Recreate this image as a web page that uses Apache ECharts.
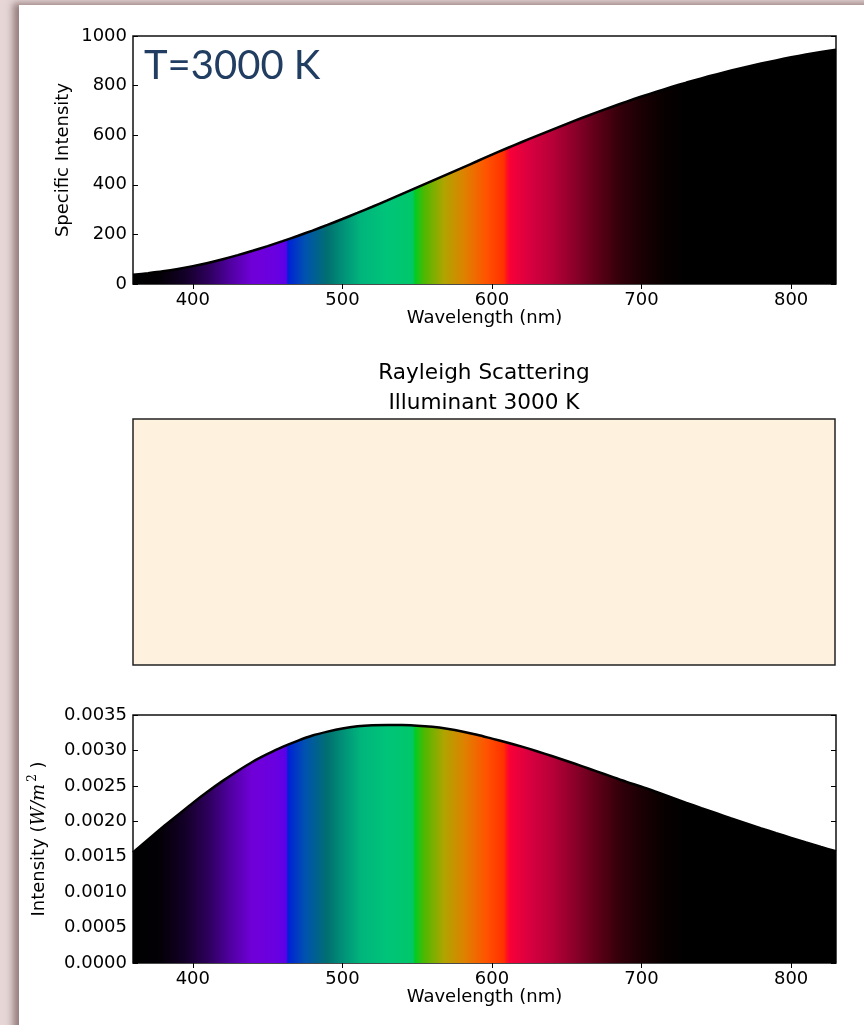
<!DOCTYPE html>
<html>
<head>
<meta charset="utf-8">
<script src="https://cdn.jsdelivr.net/npm/echarts@6/dist/echarts.min.js"></script>
<style>
html,body{margin:0;padding:0;width:864px;height:1025px;overflow:hidden;background:#e6d6d6;}
#panel{position:absolute;left:19px;top:5px;width:900px;height:1100px;background:#fff;box-shadow:-6px -2px 7px rgba(110,80,80,0.65);}
#chart{position:absolute;left:0;top:0;width:864px;height:1025px;}
</style>
</head>
<body>
<div id="panel"></div>
<div id="chart"></div>
<script>
// ---- data ----
const wavelengths = [360,370,380,390,400,410,420,430,440,450,460,470,480,490,500,510,520,530,540,550,560,570,580,590,600,610,620,630,640,650,660,670,680,690,700,710,720,730,740,750,760,770,780,790,800,810,820,830];
const specificIntensity = [37,43.5,51,60.5,72,85,100,116.5,134,152.8,172.7,193.7,215.4,238.3,262,286.5,311.5,337,363,389.3,415.7,442.1,468.5,494.9,521.5,547.3,572.6,597.5,621.8,645.8,669.2,691.8,713.9,735.3,756,775.5,794.3,812.2,829.3,845.4,860.6,875.1,888.9,901.8,914.1,925.2,935.4,945];
const scatteredIntensity = [0.00156,0.00174,0.00192,0.00209,0.00226,0.00242,0.00257,0.00271,0.00284,0.00295,0.00305,0.003135,0.00321,0.003265,0.00331,0.00334,0.003355,0.00336,0.003358,0.00335,0.003333,0.003305,0.003268,0.003221,0.003167,0.003112,0.003053,0.002989,0.002921,0.002851,0.002779,0.002705,0.002631,0.002556,0.00249,0.002414,0.002337,0.00226,0.002186,0.002113,0.00204,0.00197,0.0019,0.001832,0.001766,0.0017,0.001637,0.001577];
const xTicks = [400,500,600,700,800];
const topYTicks = [0,200,400,600,800,1000];
const bottomYTicks = [0,0.0005,0.001,0.0015,0.002,0.0025,0.003,0.0035];
// spectrum colour stops (wavelength nm, colour)
const stopNm = [360,378,395,410,425,440,455,462.5,463.5,475,490,500,512,530,547,548.5,555,568,582,596,608,610,612,625,640,655,670,685,700,715,730,830];
const stopColors = ['#000000','#030006','#140028','#2c005a','#5000a0','#7000d8','#6a00e0','#5a00e8','#0020d8','#0052b0','#007070','#009078','#00b47c','#00c47a','#00c868','#00cc22','#50b800','#b0a400','#e08000','#ff5400','#ff3000','#ff1020','#f80038','#d80040','#b80038','#8c002a','#5e0018','#34000a','#1a0004','#080000','#000000','#000000'];

const xMin = 360, xMax = 830;
const FONT = 'DejaVu Sans';

function spectrum() {
  return new echarts.graphic.LinearGradient(0, 0, 1, 0,
    stopNm.map((nm, i) => ({offset: (nm - xMin) / (xMax - xMin), color: stopColors[i]})));
}
const pairs = (ys) => wavelengths.map((w, i) => [w, ys[i]]);

const tickStyle = {show: true, inside: true, length: 5, lineStyle: {color: '#000', width: 1}};
const labelStyle = {color: '#000', fontFamily: FONT, fontSize: 18};
const nameStyle = {color: '#000', fontFamily: FONT, fontSize: 18};

function xAxisPair(gridIndex) {
  return [
    {type: 'value', gridIndex, min: xMin, max: xMax, position: 'bottom',
     axisLine: {show: false}, splitLine: {show: false},
     axisTick: Object.assign({customValues: xTicks}, tickStyle),
     axisLabel: Object.assign({customValues: xTicks, margin: 7, formatter: v => String(v)}, labelStyle),
     name: 'Wavelength (nm)', nameLocation: 'middle', nameGap: 25, nameMoveOverlap: false,
     nameTextStyle: nameStyle},
    {type: 'value', gridIndex, min: xMin, max: xMax, position: 'top',
     axisLine: {show: false}, splitLine: {show: false},
     axisTick: Object.assign({customValues: xTicks}, tickStyle),
     axisLabel: {show: false}}
  ];
}

const option = {
  animation: false,
  title: {
    text: 'Rayleigh Scattering\nIlluminant 3000 K',
    left: 484, top: 358, textAlign: 'center', padding: 0,
    textStyle: {fontFamily: FONT, fontSize: 21.6, fontWeight: 'normal', color: '#000', lineHeight: 30}
  },
  graphic: [{
    type: 'text', z: 100,
    style: {x: 144, y: 66, text: 'T=3000 K', fill: '#213e62', fontFamily: 'Lato', fontSize: 40,
            textVerticalAlign: 'middle', textAlign: 'left'}
  }],
  grid: [
    {left: 133, top: 36, width: 703, height: 248, show: true, borderColor: '#111', borderWidth: 1.5,
     backgroundColor: 'transparent', outerBoundsMode: 'none', containLabel: false},
    {left: 133, top: 419, width: 702, height: 246, show: true, borderColor: '#222', borderWidth: 1.5,
     backgroundColor: '#fef1dd', outerBoundsMode: 'none', containLabel: false},
    {left: 133, top: 715, width: 703, height: 248, show: true, borderColor: '#111', borderWidth: 1.5,
     backgroundColor: 'transparent', outerBoundsMode: 'none', containLabel: false}
  ],
  xAxis: [
    ...xAxisPair(0),
    {type: 'value', gridIndex: 1, min: xMin, max: xMax, show: false},
    ...xAxisPair(2)
  ],
  yAxis: [
    {type: 'value', gridIndex: 0, min: topYTicks[0], max: topYTicks[topYTicks.length - 1], interval: 200, position: 'left',
     axisLine: {show: false}, splitLine: {show: false}, axisTick: tickStyle,
     axisLabel: Object.assign({margin: 6, formatter: v => String(v)}, labelStyle),
     name: 'Specific Intensity', nameLocation: 'middle', nameRotate: 90, nameGap: 61, nameMoveOverlap: false,
     nameTextStyle: nameStyle},
    {type: 'value', gridIndex: 0, min: topYTicks[0], max: topYTicks[topYTicks.length - 1], interval: 200, position: 'right',
     axisLine: {show: false}, splitLine: {show: false}, axisTick: tickStyle, axisLabel: {show: false}},
    {type: 'value', gridIndex: 1, min: 0, max: 1, show: false},
    {type: 'value', gridIndex: 2, min: bottomYTicks[0], max: bottomYTicks[bottomYTicks.length - 1], interval: 0.0005, position: 'left',
     axisLine: {show: false}, splitLine: {show: false}, axisTick: tickStyle,
     axisLabel: Object.assign({margin: 6, formatter: v => v.toFixed(4)}, labelStyle),
     name: 'Intensity ({it|W/m}{sup|2} )', nameLocation: 'middle', nameRotate: 90, nameGap: 82,
     nameMoveOverlap: false,
     nameTextStyle: Object.assign({}, nameStyle, {lineHeight: 24, rich: {
       it: {fontFamily: 'DejaVu Serif', fontStyle: 'italic', fontSize: 18, color: '#000', lineHeight: 24},
       sup: {fontFamily: 'DejaVu Serif', fontSize: 12, color: '#000', verticalAlign: 'top', lineHeight: 24, padding: [0, 0, 0, 2]}
     }})},
    {type: 'value', gridIndex: 2, min: bottomYTicks[0], max: bottomYTicks[bottomYTicks.length - 1], interval: 0.0005, position: 'right',
     axisLine: {show: false}, splitLine: {show: false}, axisTick: tickStyle, axisLabel: {show: false}}
  ],
  series: [
    {type: 'line', xAxisIndex: 0, yAxisIndex: 0, data: pairs(specificIntensity), smooth: 0.3,
     showSymbol: false, lineStyle: {color: '#000', width: 2.5}, areaStyle: {color: spectrum(), opacity: 1}},
    {type: 'line', xAxisIndex: 4, yAxisIndex: 3, data: pairs(scatteredIntensity), smooth: 0.3,
     showSymbol: false, lineStyle: {color: '#000', width: 2.5}, areaStyle: {color: spectrum(), opacity: 1}}
  ]
};
const chart = echarts.init(document.getElementById('chart'), null, {renderer: 'canvas'});
chart.setOption(option);
</script>
</body>
</html>
